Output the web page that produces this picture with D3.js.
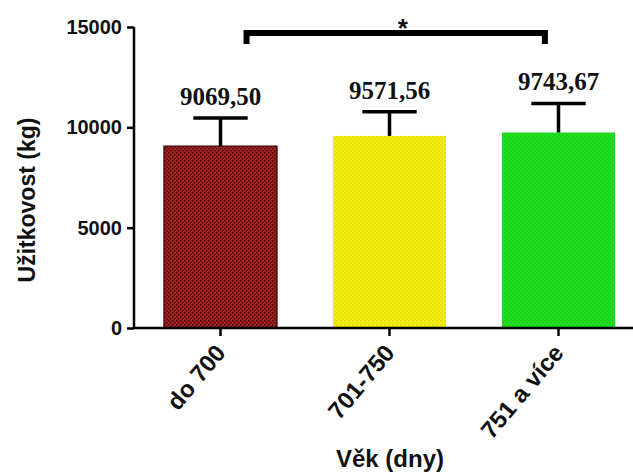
<!DOCTYPE html>
<html>
<head>
<meta charset="utf-8">
<script src="https://cdn.jsdelivr.net/npm/d3@7.9.0/dist/d3.min.js"></script>
<style>
  body { margin: 0; background: #fff; }
  svg text { font-family: "Liberation Sans", Arial, sans-serif; fill: #111; }
</style>
</head>
<body>
<svg id="chart" width="633" height="475"></svg>
<script>
// data
const categories = ['do 700', '701-750', '751 a více'];
const means = [9069.50, 9571.56, 9743.67];
const errors = [1400, 1200, 1450];
const valueLabels = ['9069,50', '9571,56', '9743,67'];
const yTicks = [0, 5000, 10000, 15000];
const fills = ['url(#pat0)', 'url(#pat1)', 'url(#pat2)'];

const svg = d3.select('#chart');

// patterns for the bars
const defs = svg.append('defs');
const patColors = [['#a31f1f', '#3a0a0a'], ['#f4f012', '#dcd600'], ['#1fe01f', '#1ccb1c']];
patColors.forEach((c, i) => {
  const p = defs.append('pattern')
    .attr('id', 'pat' + i)
    .attr('width', 4).attr('height', 4)
    .attr('patternUnits', 'userSpaceOnUse');
  p.append('rect').attr('width', 4).attr('height', 4).attr('fill', c[0]);
  p.append('rect').attr('x', 0).attr('y', 0).attr('width', 1.5).attr('height', 1.5).attr('fill', c[1]);
  p.append('rect').attr('x', 2).attr('y', 2).attr('width', 1.5).attr('height', 1.5).attr('fill', c[1]);
});

const x = d3.scaleBand()
  .domain(categories)
  .range([136, 643])
  .paddingInner(0.33)
  .paddingOuter(0.165);

const y = d3.scaleLinear()
  .domain([0, 15000])
  .range([328, 27]);

// bars
svg.selectAll('.bar')
  .data(categories)
  .enter()
  .append('rect')
  .attr('class', 'bar')
  .attr('x', d => x(d))
  .attr('width', x.bandwidth())
  .attr('y', (d, i) => y(means[i]))
  .attr('height', (d, i) => y(0) - y(means[i]))
  .attr('fill', (d, i) => fills[i])
  .attr('stroke', (d, i) => i === 0 ? '#2a0505' : 'none')
  .attr('stroke-width', 1);

// error bars (upper only)
const eb = svg.selectAll('.err')
  .data(categories)
  .enter()
  .append('g')
  .attr('class', 'err');

eb.append('line')
  .attr('x1', d => x(d) + x.bandwidth() / 2)
  .attr('x2', d => x(d) + x.bandwidth() / 2)
  .attr('y1', (d, i) => y(means[i]))
  .attr('y2', (d, i) => y(means[i] + errors[i]))
  .attr('stroke', '#000').attr('stroke-width', 3.5);

eb.append('line')
  .attr('x1', d => x(d) + x.bandwidth() * 0.26)
  .attr('x2', d => x(d) + x.bandwidth() * 0.74)
  .attr('y1', (d, i) => y(means[i] + errors[i]))
  .attr('y2', (d, i) => y(means[i] + errors[i]))
  .attr('stroke', '#000').attr('stroke-width', 3.5);

// value labels
svg.selectAll('.vlabel')
  .data(categories)
  .enter()
  .append('text')
  .attr('class', 'vlabel')
  .attr('x', d => x(d) + x.bandwidth() / 2)
  .attr('y', (d, i) => y(means[i] + errors[i]) - 13)
  .attr('text-anchor', 'middle')
  .style('font-family', '"Liberation Serif", "Times New Roman", serif')
  .style('font-weight', 'bold')
  .style('font-size', '25px')
  .text((d, i) => valueLabels[i]);

// y axis
const yAxis = svg.append('g')
  .attr('transform', 'translate(134,0)')
  .call(d3.axisLeft(y).tickValues(yTicks).tickSize(7).tickPadding(5).tickFormat(d3.format('d')));
yAxis.select('.domain').attr('stroke', '#000').attr('stroke-width', 2.5).attr('d', 'M0,27V328');
yAxis.selectAll('.tick line').attr('stroke', '#000').attr('stroke-width', 2.5);
yAxis.selectAll('.tick text')
  .style('font-size', '20px')
  .style('font-weight', 'bold')
  .attr('fill', '#222');

// x axis
const xAxis = svg.append('g')
  .attr('transform', 'translate(0,328)')
  .call(d3.axisBottom(x).tickSize(8).tickSizeOuter(0));
xAxis.select('.domain').attr('stroke', '#000').attr('stroke-width', 2.5).attr('d', 'M133,0H633');
xAxis.selectAll('.tick line').attr('stroke', '#000').attr('stroke-width', 2.5);
xAxis.selectAll('.tick text')
  .style('font-size', '24px')
  .style('font-weight', 'bold')
  .attr('fill', '#222')
  .attr('text-anchor', 'end')
  .attr('x', 0)
  .attr('y', 0)
  .attr('dy', '0.35em')
  .attr('transform', 'translate(0,20) rotate(-50)');

// axis titles
svg.append('text')
  .attr('x', 390)
  .attr('y', 467)
  .attr('text-anchor', 'middle')
  .style('font-size', '24px')
  .style('font-weight', 'bold')
  .attr('fill', '#222')
  .text('Věk (dny)');

svg.append('text')
  .attr('transform', 'translate(35,200) rotate(-90)')
  .attr('text-anchor', 'middle')
  .style('font-size', '23px')
  .style('font-weight', 'bold')
  .attr('fill', '#222')
  .text('Užitkovost (kg)');

// significance bracket between first and last group
const bx1 = x(categories[0]) + x.bandwidth() * 0.73;
const bx2 = x(categories[2]) + x.bandwidth() * 0.38;
svg.append('path')
  .attr('d', `M${bx1},44V33H${bx2}V44`)
  .attr('fill', 'none')
  .attr('stroke', '#000')
  .attr('stroke-width', 6)
  .attr('stroke-linejoin', 'miter');

svg.append('text')
  .attr('x', (bx1 + bx2) / 2 + 7)
  .attr('y', 37)
  .attr('text-anchor', 'middle')
  .style('font-size', '26px')
  .style('font-weight', 'bold')
  .text('*');
</script>
</body>
</html>
